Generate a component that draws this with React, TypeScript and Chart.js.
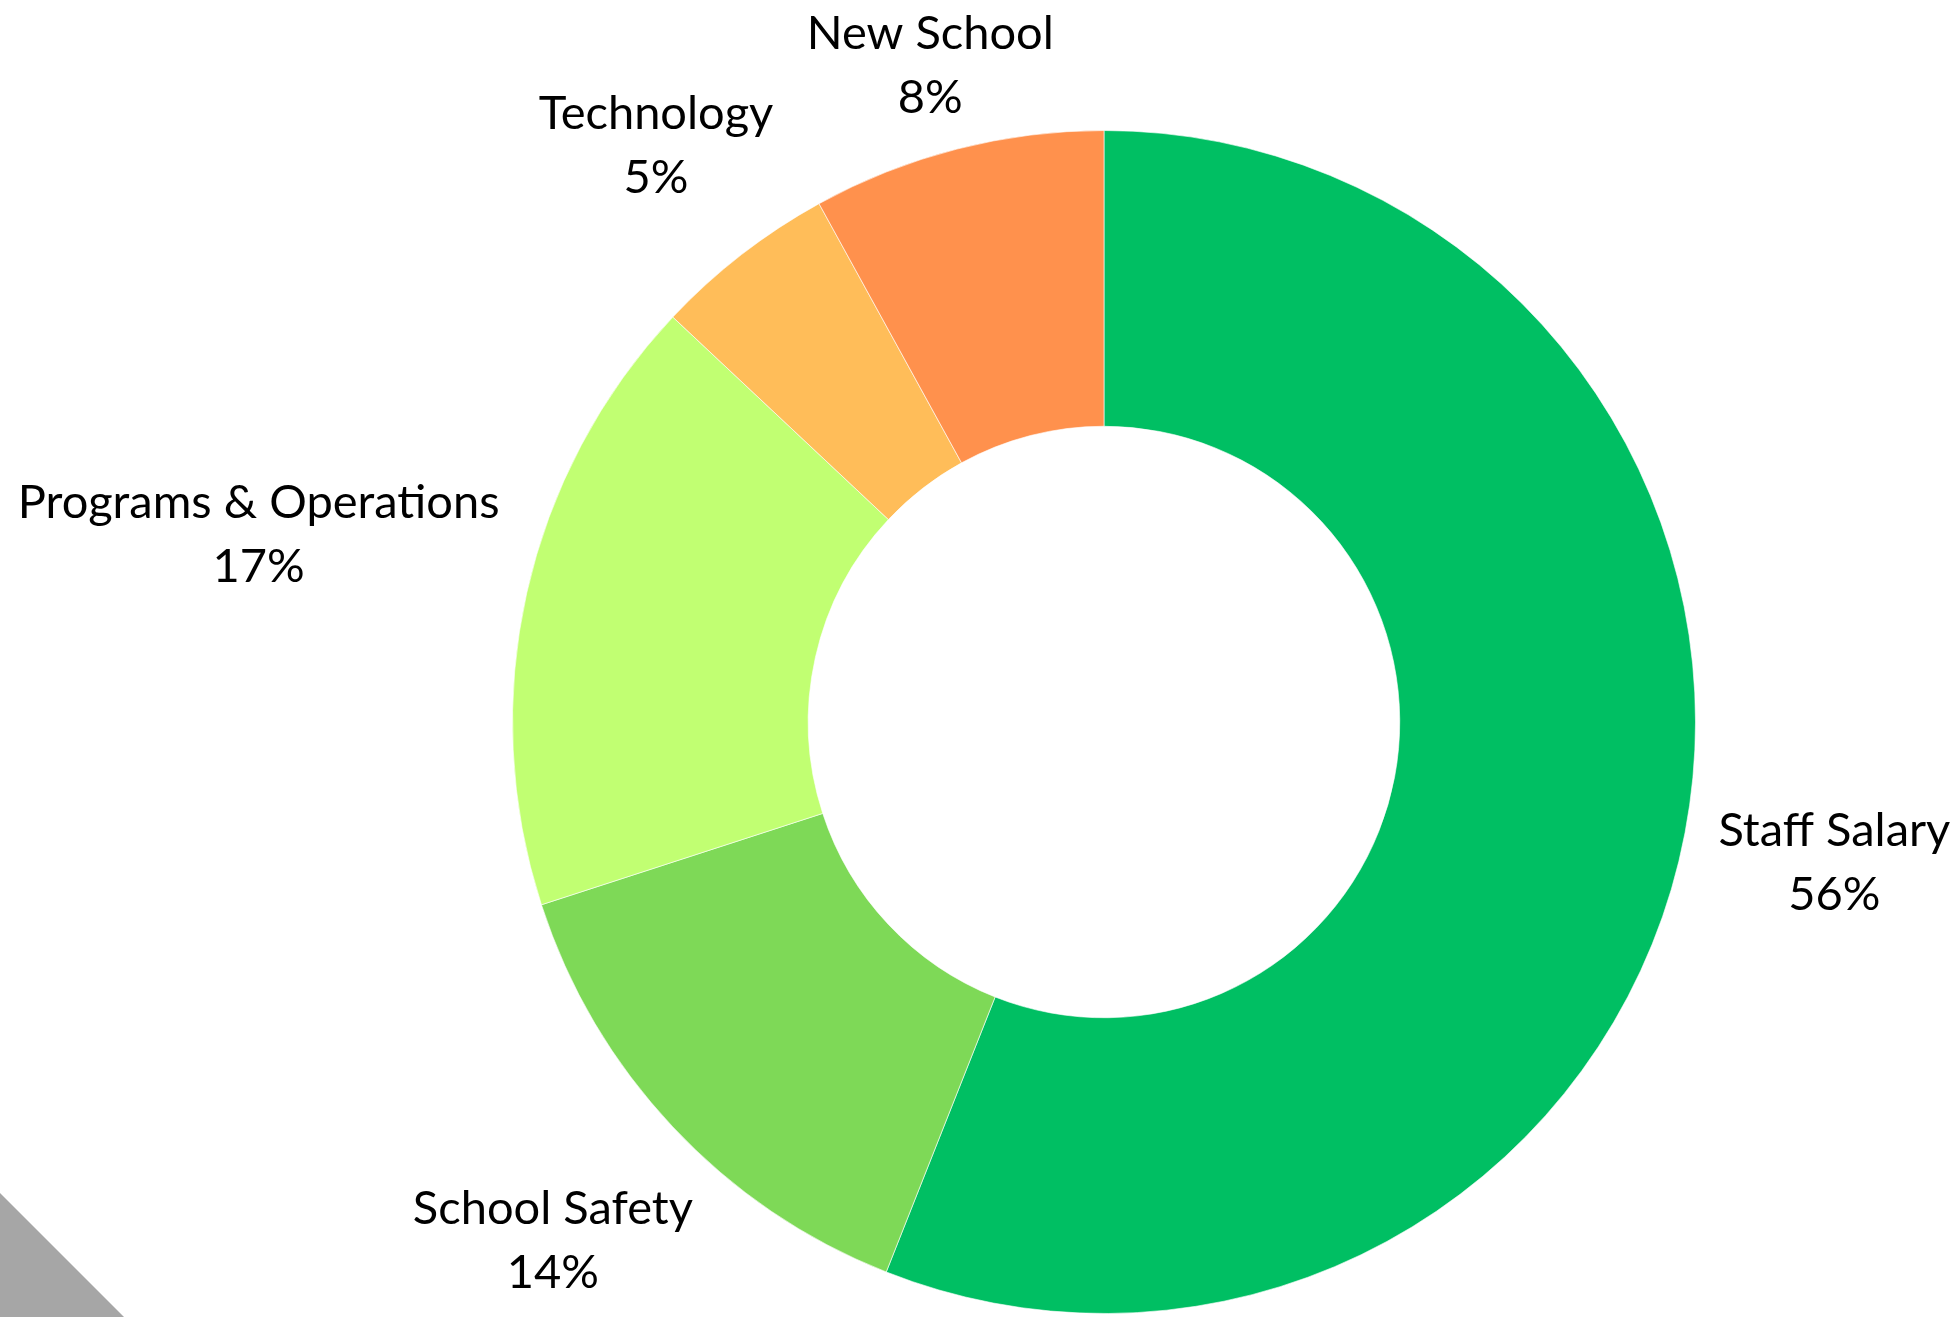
import React, { useEffect, useRef } from "react";
import { Chart, registerables } from "chart.js";

Chart.register(...registerables);

const categories = ["Staff Salary", "School Safety", "Programs & Operations", "Technology", "New School"];
const values = [56, 14, 17, 5, 8];
const percentLabels = ["56%", "14%", "17%", "5%", "8%"];
const colors = ["#00BF63", "#7ED957", "#C1FF72", "#FFBD59", "#FF914D"];

const FONT_SIZE = 47;
const LINE_H = 64;
const GAP = 29;
const TOP_MIN = 15;

const outsideLabels = {
  id: "outsideLabels",
  afterDraw(chart: any) {
    const ctx = chart.ctx as CanvasRenderingContext2D;
    const meta = chart.getDatasetMeta(0);
    ctx.save();
    ctx.font = `${FONT_SIZE}px Lato`;
    ctx.fillStyle = "#000000";
    ctx.textAlign = "center";
    ctx.textBaseline = "alphabetic";
    const capH = FONT_SIZE * 0.7165;
    meta.data.forEach((arc: any, i: number) => {
      const { x, y, startAngle, endAngle, outerRadius } = arc.getProps(
        ["x", "y", "startAngle", "endAngle", "outerRadius"],
        true
      );
      const mid = (startAngle + endAngle) / 2;
      const ux = Math.cos(mid);
      const uy = Math.sin(mid);
      const w = Math.max(ctx.measureText(categories[i]).width, ctx.measureText(percentLabels[i]).width) / 2;
      const h = LINE_H / 2 + capH / 2;
      const d = outerRadius + GAP + Math.abs(ux) * w + Math.abs(uy) * h;
      const cx = x + ux * d;
      let cy = y + uy * d;
      if (cy - h < TOP_MIN) {
        cy = TOP_MIN + h;
      }
      ctx.fillText(categories[i], cx, cy - LINE_H / 2 + capH / 2);
      ctx.fillText(percentLabels[i], cx, cy + LINE_H / 2 + capH / 2);
    });
    ctx.restore();
  },
};

export default function App() {
  const ref = useRef<HTMLCanvasElement | null>(null);
  useEffect(() => {
    if (!ref.current) return;
    const chart = new Chart(ref.current, {
      type: "doughnut",
      data: {
        labels: categories,
        datasets: [
          {
            data: values,
            backgroundColor: colors,
            borderColor: "rgba(255,255,255,0.6)",
            borderWidth: 1,
            hoverOffset: 0,
          },
        ],
      },
      options: {
        responsive: false,
        animation: false,
        cutout: "50%",
        rotation: 0,
        events: [],
        layout: { padding: { top: 130, bottom: 3, left: 512, right: 263 } },
        plugins: {
          legend: { display: false },
          tooltip: { enabled: false },
        },
      },
      plugins: [outsideLabels],
    });
    let alive = true;
    if ((document as any).fonts && (document as any).fonts.load) {
      (document as any).fonts.load(`${FONT_SIZE}px Lato`).then(() => {
        if (alive) chart.draw();
      });
    }
    return () => {
      alive = false;
      chart.destroy();
    };
  }, []);
  return (
    <div style={{ position: "absolute", left: 0, top: 0, width: 1959, height: 1317, background: "#ffffff", overflow: "hidden" }}>
      <canvas ref={ref} width={1959} height={1317} style={{ display: "block", width: 1959, height: 1317 }} />
      <div
        style={{
          position: "absolute",
          left: 0,
          top: 1193,
          width: 124,
          height: 124,
          background: "#A6A6A6",
          clipPath: "polygon(0 0, 100% 100%, 0 100%)",
        }}
      />
    </div>
  );
}
